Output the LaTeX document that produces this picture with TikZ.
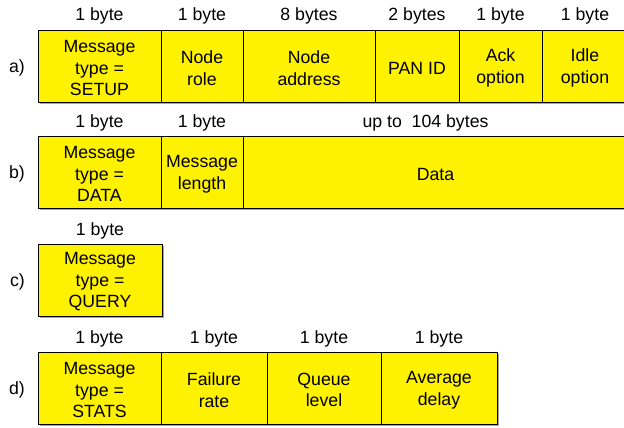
\documentclass[tikz,border=0pt]{standalone}
\usepackage{fontspec}
\setmainfont{Liberation Sans}
\usetikzlibrary{positioning,shadows}

\tikzset{
  field/.style={draw, fill=yellow, line width=0.8pt, minimum height=72pt,
    inner sep=0pt, outer sep=0pt,
    label={[align=center, inner sep=0pt, yshift=-2pt]center:#1},
    drop shadow={shadow xshift=1.8pt, shadow yshift=-1.8pt, fill=black!35, opacity=1}},
  size/.style={inner sep=0pt},
}

\begin{document}
\begin{tikzpicture}[x=1pt, y=-1pt, font=\fontsize{17.7}{21.5}\selectfont]
  \useasboundingbox (0,0) rectangle (624,428);
  \clip (0,0) rectangle (624,428);

  % a) setup message
  \node[field={Message\\type =\\SETUP}, minimum width=123pt, anchor=north west] (a1) at (38,30) {};
  \node[field={Node\\role}, minimum width=82pt, right=0pt of a1] (a2) {};
  \node[field={Node\\address}, minimum width=132pt, right=0pt of a2] (a3) {};
  \node[field={PAN ID}, minimum width=84pt, right=0pt of a3] (a4) {};
  \node[field={Ack\\option}, minimum width=83pt, right=0pt of a4] (a5) {};
  \node[field={Idle\\option}, minimum width=86pt, right=0pt of a5] (a6) {};
  \node[size, left=13pt of a1, yshift=-2pt] (ra) {a)};
  \node[size, above=9pt of a1.north, anchor=base] {1 byte};
  \node[size, above=9pt of a2.north, anchor=base] {1 byte};
  \node[size, above=9pt of a3.north, anchor=base] {8 bytes};
  \node[size, above=9pt of a4.north, anchor=base] {2 bytes};
  \node[size, above=9pt of a5.north, anchor=base] {1 byte};
  \node[size, above=9pt of a6.north, anchor=base] {1 byte};

  % b) data message
  \node[field={Message\\type =\\DATA}, minimum width=123pt, anchor=north west] (b1) at (38,136) {};
  \node[field={Message\\length}, minimum width=82pt, right=0pt of b1] (b2) {};
  \node[field={Data}, minimum width=385pt, right=0pt of b2] (b3) {};
  \node[size, left=13pt of b1, yshift=-2pt] (rb) {b)};
  \node[size, above=9pt of b1.north, anchor=base] {1 byte};
  \node[size, above=9pt of b2.north, anchor=base] {1 byte};
  \node[size, above=9pt of b3.north, anchor=base, xshift=-10pt] {up to\ \ 104 bytes};

  % c) query message
  \node[field={Message\\type =\\QUERY}, minimum width=124pt, anchor=north west] (c1) at (38,244) {};
  \node[size, left=13pt of c1, yshift=-2pt] (rc) {c)};
  \node[size, above=9pt of c1.north, anchor=base] {1 byte};

  % d) stats message
  \node[field={Message\\type =\\STATS}, minimum width=123pt, anchor=north west] (d1) at (38,352) {};
  \node[field={Failure\\rate}, minimum width=106pt, right=0pt of d1] (d2) {};
  \node[field={Queue\\level}, minimum width=114pt, right=0pt of d2] (d3) {};
  \node[field={Average\\delay}, minimum width=116pt, right=0pt of d3] (d4) {};
  \node[size, left=13pt of d1, yshift=-2pt] (rd) {d)};
  \node[size, above=9pt of d1.north, anchor=base] {1 byte};
  \node[size, above=9pt of d2.north, anchor=base] {1 byte};
  \node[size, above=9pt of d3.north, anchor=base] {1 byte};
  \node[size, above=9pt of d4.north, anchor=base] {1 byte};
\end{tikzpicture}
\end{document}
